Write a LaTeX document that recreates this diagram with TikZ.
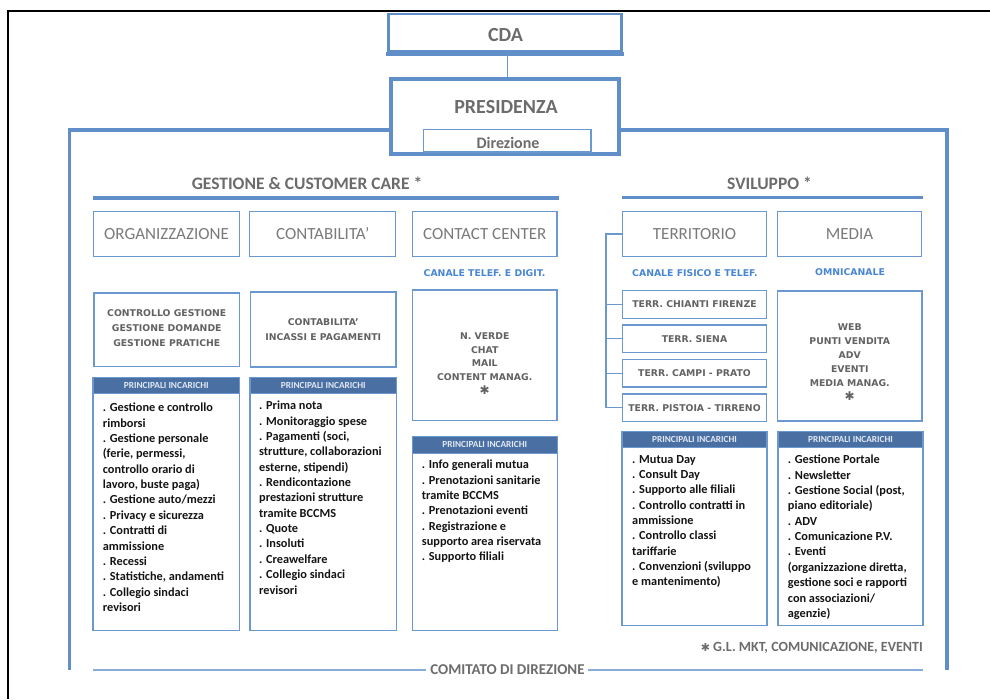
\documentclass[tikz,border=0pt]{standalone}
\usepackage{fontspec}
\setmainfont{Carlito}
\newfontfamily\tah{DejaVu Sans}
\definecolor{bbord}{RGB}{106,152,207}
\definecolor{bthick}{RGB}{95,142,200}
\definecolor{hdr}{RGB}{74,112,163}
\definecolor{htxt}{RGB}{225,232,242}
\definecolor{ghead}{RGB}{108,108,108}
\definecolor{gtitle}{RGB}{122,122,122}
\definecolor{gtah}{RGB}{98,98,98}
\definecolor{btxt}{RGB}{72,134,212}
\definecolor{ltxt}{RGB}{20,20,20}
\definecolor{comline}{RGB}{135,172,215}
\begin{document}
\begin{tikzpicture}[x=1pt,y=-1pt,
  thinbox/.style={draw=bbord, line width=1.3pt, fill=white, inner sep=0pt},
  thickbox/.style={draw=bthick, fill=white, inner sep=0pt},
  headfont/.style={font=\bfseries\fontsize{#1}{#1}\selectfont, text=ghead, inner sep=0pt},
  titlefont/.style={font=\fontsize{17}{20}\selectfont, text=gtitle},
  tahtext/.style={font=\tah\bfseries\fontsize{9.3}{#1}\selectfont, text=gtah, align=center, inner sep=0pt},
  tahtext/.default=15.3,
  bluelabel/.style={font=\tah\bfseries\fontsize{9.3}{11}\selectfont, text=btxt, inner sep=0pt},
  hdrbox/.style={draw=bbord, line width=1.3pt, fill=hdr, text=htxt, font=\bfseries\fontsize{9.3}{11}\selectfont, inner sep=0pt, anchor=north},
  listtxt/.style={font=\bfseries\fontsize{12.3}{15.35}\selectfont, text=ltxt, align=left, anchor=north west, inner sep=0pt},
  conn/.style={draw=bbord, line width=1.3pt},
  uline/.style={draw=bthick, line width=3.6pt},
]
\useasboundingbox (0,0) rectangle (990,699);
\fill[white] (0,0) rectangle (990,699);
% page frame
\coordinate (pf1) at (7.6,699);
\coordinate (pf2) at (7.6,10.7);
\coordinate (pf3) at (990,10.7);
\draw[black, line width=2pt] (pf1) -- (pf2) -- (pf3);

% outer frame
\coordinate (fy) at (0,129.7);
\coordinate (fl) at (69.5,129.7);
\coordinate (flb) at (69.5,670);
\coordinate (fr) at (947,129.7);
\coordinate (frb) at (947,670);

% top boxes
\node[thickbox, line width=2.7pt, minimum width=232.6pt, minimum height=37.5pt] (cda) at (505,32.75) {};
\draw[bthick, line width=4.5pt] ([shift={(-1.35pt,-1pt)}]cda.south west) -- ([shift={(1.35pt,-1pt)}]cda.south east);
\node[headfont=20] (cdat) at (505.5,35.3) {CDA};

\node[thickbox, line width=4pt, minimum width=228pt, minimum height=75pt] (pres) at (505,116.5) {};
\draw[bthick, line width=3.8pt] (pres.west |- fy) -- (fl) -- (flb);
\draw[bthick, line width=3.8pt] (pres.east |- fy) -- (fr) -- (frb);
\node[thickbox, line width=4pt, minimum width=228pt, minimum height=75pt] (pres2) at (505,116.5) {};
\node[headfont=20] (prest) at (506,106.7) {PRESIDENZA};
\node[thinbox, minimum width=167.3pt, minimum height=22.4pt] (dir) at (507.25,140.8) {};
\node[headfont=16] (dirt) at (508,142.5) {Direzione};
\draw[conn, line width=1pt] ([xshift=2.7pt]cda.south) -- ([xshift=2.7pt]pres.north);

% section headings
\node[headfont=17.5] (gest) at (307,183) {GESTIONE \& CUSTOMER CARE *};
\coordinate (g1) at (93,198); \coordinate (g2) at (559,198);
\draw[uline] (g1) -- (g2);
\node[headfont=17.5] (svil) at (769.5,183) {SVILUPPO *};
\coordinate (s1) at (622,197.5); \coordinate (s2) at (923,197.5);
\draw[uline] (s1) -- (s2);

% row 1
\node[thinbox, titlefont, minimum width=146pt, minimum height=45pt] (org) at (166.5,234) {ORGANIZZAZIONE};
\node[thinbox, titlefont, minimum width=146pt, minimum height=45pt] (cont) at (322.75,234) {CONTABILITA’};
\node[thinbox, titlefont, minimum width=144.5pt, minimum height=45pt] (cc) at (484.75,234) {CONTACT CENTER};
\node[thinbox, titlefont, minimum width=144pt, minimum height=45pt] (terr) at (694.5,234) {TERRITORIO};
\node[thinbox, titlefont, minimum width=144pt, minimum height=45pt] (media) at (849.5,234) {MEDIA};

% blue labels
\node[bluelabel] (cclab) at (484.5,272.7) {CANALE TELEF. E DIGIT.};
\node[bluelabel] (terrlab) at (695,273) {CANALE FISICO E TELEF.};
\node[bluelabel] (medlab) at (850,272) {OMNICANALE};

% row 2
\node[thinbox, minimum width=145.5pt, minimum height=73.5pt] (ctrl) at (166.75,329.75) {};
\node[tahtext=15.3] (ctrlt) at (166.75,328) {CONTROLLO GESTIONE\\GESTIONE DOMANDE\\GESTIONE PRATICHE};
\node[thinbox, tahtext=14.4, minimum width=145.5pt, minimum height=75pt] (cont2) at (323.25,329.5) {CONTABILITA’\\INCASSI E PAGAMENTI};
\node[thinbox, minimum width=144.5pt, minimum height=130.5pt] (ccbox) at (484.75,355.25) {};
\node[tahtext=13.7] (ccboxt) at ([yshift=-8.2pt]ccbox.center) {N. VERDE\\CHAT\\MAIL\\CONTENT MANAG.\\{\mdseries\fontsize{12}{12}\selectfont ✱}};
\node[thinbox, minimum width=144.5pt, minimum height=130pt] (mbox) at (849.75,356) {};
\node[tahtext=14.1] (mboxt) at ([yshift=-6pt]mbox.center) {WEB\\PUNTI VENDITA\\ADV\\EVENTI\\MEDIA MANAG.\\{\mdseries\fontsize{12}{12}\selectfont ✱}};

% territori
\node[thinbox, tahtext, minimum width=144pt, minimum height=27.6pt] (chi) at (694.5,304.5) {TERR. CHIANTI FIRENZE};
\node[thinbox, tahtext, minimum width=144pt, minimum height=27.6pt] (sie) at (694.5,338.8) {TERR. SIENA};
\node[thinbox, tahtext, minimum width=144pt, minimum height=27.6pt] (cam) at (694.5,373.3) {TERR. CAMPI - PRATO};
\node[thinbox, tahtext, minimum width=144pt, minimum height=27.6pt] (pist) at (694.5,407.8) {TERR. PISTOIA - TIRRENO};
\coordinate (bx) at (606,0);
\draw[conn] (terr.west) -- (terr.west -| bx) -- (pist.west -| bx) -- (pist.west);
\draw[conn] (chi.west -| bx) -- (chi.west);
\draw[conn] (sie.west -| bx) -- (sie.west);
\draw[conn] (cam.west -| bx) -- (cam.west);

% principali incarichi
\node[thinbox, minimum width=146.5pt, minimum height=253pt, anchor=north] (incA) at (166.25,377) {};
\node[hdrbox, minimum width=146.5pt, minimum height=16pt] (hA) at (incA.north) {PRINCIPALI INCARICHI};
\node[listtxt] (lA) at (102.7,403) {. Gestione e controllo\\rimborsi\\. Gestione personale\\(ferie, permessi,\\controllo orario di\\lavoro, buste paga)\\. Gestione auto/mezzi\\. Privacy e sicurezza\\. Contratti di\\ammissione\\. Recessi\\. Statistiche, andamenti\\. Collegio sindaci\\revisori};

\node[thinbox, minimum width=146.5pt, minimum height=253pt, anchor=north] (incB) at (323.25,377) {};
\node[hdrbox, minimum width=146.5pt, minimum height=16pt] (hB) at (incB.north) {PRINCIPALI INCARICHI};
\node[listtxt] (lB) at (259,401) {. Prima nota\\. Monitoraggio spese\\. Pagamenti (soci,\\strutture, collaborazioni\\esterne, stipendi)\\. Rendicontazione\\prestazioni strutture\\tramite BCCMS\\. Quote\\. Insoluti\\. Creawelfare\\. Collegio sindaci\\revisori};

\node[thinbox, minimum width=145pt, minimum height=194.3pt, anchor=north] (incC) at (484.75,435.7) {};
\node[hdrbox, minimum width=145pt, minimum height=17pt] (hC) at (incC.north) {PRINCIPALI INCARICHI};
\node[listtxt] (lC) at (421.7,460) {. Info generali mutua\\. Prenotazioni sanitarie\\tramite BCCMS\\. Prenotazioni eventi\\. Registrazione e\\supporto area riservata\\. Supporto filiali};

\node[thinbox, minimum width=145pt, minimum height=194.3pt, anchor=north] (incD) at (694.5,430.7) {};
\node[hdrbox, minimum width=145pt, minimum height=16pt] (hD) at (incD.north) {PRINCIPALI INCARICHI};
\node[listtxt] (lD) at (632,455) {. Mutua Day\\. Consult Day\\. Supporto alle filiali\\. Controllo contratti in\\ammissione\\. Controllo classi\\tariffarie\\. Convenzioni (sviluppo\\e mantenimento)};

\node[thinbox, minimum width=145pt, minimum height=194.3pt, anchor=north] (incE) at (850.5,430.7) {};
\node[hdrbox, minimum width=145pt, minimum height=16pt] (hE) at (incE.north) {PRINCIPALI INCARICHI};
\node[listtxt] (lE) at (787.7,455) {. Gestione Portale\\. Newsletter\\. Gestione Social (post,\\piano editoriale)\\. ADV\\. Comunicazione P.V.\\. Eventi\\(organizzazione diretta,\\gestione soci e rapporti\\con associazioni/\\agenzie)};

% footnote
\node[headfont=14, anchor=east] (gl) at (923,648) {{\tah\mdseries\fontsize{11}{11}\selectfont ✱}\ G.L. MKT, COMUNICAZIONE, EVENTI};

% comitato
\node[headfont=15] (com) at (507.5,670) {COMITATO DI DIREZIONE};
\coordinate (cl) at (93,670); \coordinate (cr) at (923,670);
\draw[comline, line width=2.2pt] (cl) -- ([xshift=-4pt]com.west);
\draw[comline, line width=2.2pt] ([xshift=3pt]com.east) -- (cr);
\end{tikzpicture}
\end{document}
